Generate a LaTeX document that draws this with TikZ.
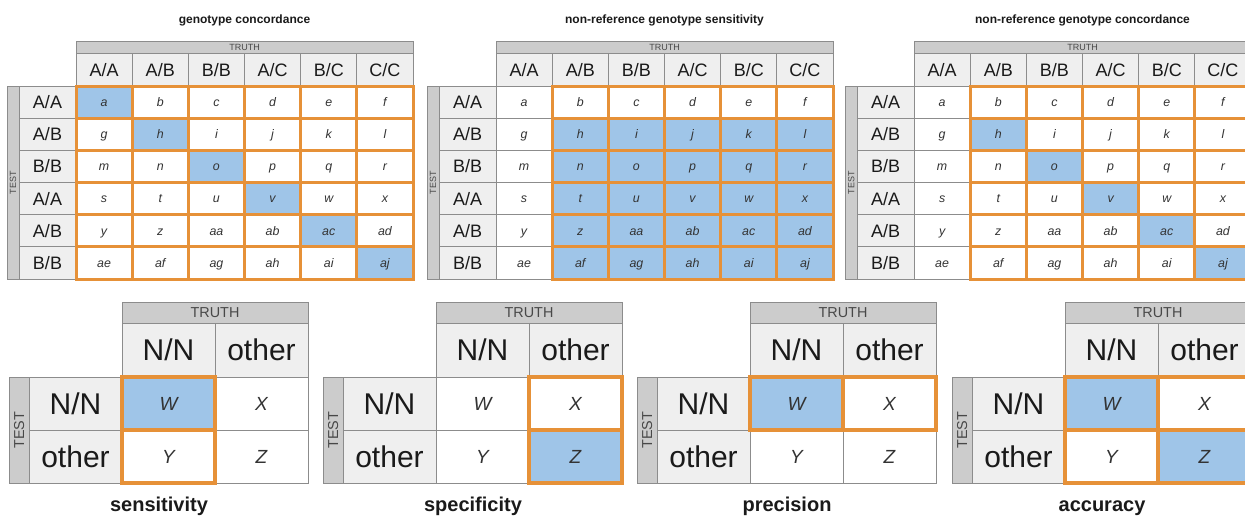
\documentclass[tikz,border=0pt]{standalone}
\usepackage{fontspec}
\setmainfont{Liberation Sans}
\definecolor{hdr}{HTML}{EFEFEF}
\definecolor{bar}{HTML}{CCCCCC}
\definecolor{gridc}{HTML}{8C8C8C}
\definecolor{hl}{HTML}{9FC5E8}
\definecolor{org}{HTML}{E69138}
\definecolor{txt}{HTML}{1A1A1A}
\definecolor{celltxt}{HTML}{333333}
\tikzset{
  cellbox/.style={draw=gridc, line width=0.5pt},
  hdrbox/.style={cellbox, fill=hdr},
  barbox/.style={draw=gridc, fill=bar, line width=0.5pt},
  orgthin/.style={draw=org, line width=1.5pt},
  orgthick/.style={draw=org, line width=2pt},
  toptitle/.style={inner sep=0pt, text height=4.3pt, text depth=1.2pt, text=txt, font=\fontsize{6}{7}\selectfont\bfseries},
  bottitle/.style={inner sep=0pt, text height=7.2pt, text depth=2pt, text=txt, font=\fontsize{10}{12}\selectfont\bfseries},
  smallcap/.style={inner sep=0pt, text height=3.24pt, text depth=0pt, text=txt!80, font=\fontsize{4.5}{5}\selectfont},
  midcap/.style={inner sep=0pt, text height=5.2pt, text depth=0pt, text=txt!80, font=\fontsize{7.2}{8}\selectfont},
  toplab/.style={inner sep=0pt, text height=6.5pt, text depth=0pt, text=txt, font=\fontsize{9}{10}\selectfont},
  biglab/.style={inner sep=0pt, text height=10.8pt, text depth=0pt, text=txt, font=\fontsize{15}{17}\selectfont},
  toplet/.style={inner sep=0pt, text height=4.4pt, text depth=0pt, text=celltxt, font=\fontsize{6.2}{7}\selectfont\itshape},
  botlet/.style={inner sep=0pt, text height=6.8pt, text depth=0pt, text=celltxt, font=\fontsize{9.5}{11}\selectfont\itshape},
}
% #1 name, #2 x origin, #3 title, #4 mode
\newcommand\TopTable[4]{%
\begin{scope}[shift={(#2,0)}]
  \node[toptitle] (#1-title) at (237.5,20) {#3};
  \draw[barbox] (69,41) rectangle (406,53);
  \node[smallcap] (#1-truth) at (237.5,47) {TRUTH};
  \draw[barbox] (0,86) rectangle (12,279);
  \node[smallcap, rotate=90] (#1-test) at (6,182.5) {TEST};
  \foreach \h [count=\i from 0] in {A/A,A/B,B/B,A/C,B/C,C/C}{
    \pgfmathsetmacro\xa{69+\i*56.1667}
    \pgfmathsetmacro\xb{\xa+56.1667}
    \draw[hdrbox] (\xa,53) rectangle (\xb,86);
    \node[toplab] (#1-h\i) at ({(\xa+\xb)/2},70) {\h};
  }
  \foreach \r [count=\j from 0] in {A/A,A/B,B/B,A/A,A/B,B/B}{
    \pgfmathsetmacro\ya{86+\j*32.1667}
    \pgfmathsetmacro\yb{\ya+32.1667}
    \draw[hdrbox] (12,\ya) rectangle (69,\yb);
    \node[toplab] (#1-r\j) at (40.5,{(\ya+\yb)/2}) {\r};
  }
  \foreach \t [count=\k from 0] in {a,b,c,d,e,f,g,h,i,j,k,l,m,n,o,p,q,r,s,t,u,v,w,x,y,z,aa,ab,ac,ad,ae,af,ag,ah,ai,aj}{
    \pgfmathtruncatemacro\col{mod(\k,6)}
    \pgfmathtruncatemacro\row{div(\k,6)}
    \pgfmathtruncatemacro\isblue{(#4==1)*(\col==\row)+(#4==2)*(\col>0)*(\row>0)+(#4==3)*(\col>0)*(\col==\row)}
    \pgfmathsetmacro\xa{69+\col*56.1667}
    \pgfmathsetmacro\xb{\xa+56.1667}
    \pgfmathsetmacro\ya{86+\row*32.1667}
    \pgfmathsetmacro\yb{\ya+32.1667}
    \ifnum\isblue>0 \def\fc{hl}\else\def\fc{white}\fi
    \draw[cellbox, fill=\fc] (\xa,\ya) rectangle (\xb,\yb);
    \node[toplet] (#1-c\k) at ({(\xa+\xb)/2},{(\ya+\yb)/2}) {\t};
  }
  \foreach \k in {0,...,35}{
    \pgfmathtruncatemacro\col{mod(\k,6)}
    \pgfmathtruncatemacro\row{div(\k,6)}
    \pgfmathtruncatemacro\isorg{(#4==1)+(#4>1)*(\col>0)}
    \pgfmathsetmacro\xa{69+\col*56.1667}
    \pgfmathsetmacro\xb{\xa+56.1667}
    \pgfmathsetmacro\ya{86+\row*32.1667}
    \pgfmathsetmacro\yb{\ya+32.1667}
    \ifnum\isorg>0 \draw[orgthin] (\xa,\ya) rectangle (\xb,\yb);\fi
  }
\end{scope}}
% #1 name, #2 x origin, #3 title, #4 blue list, #5 orange list
\newcommand\BotTable[5]{%
\begin{scope}[shift={(#2,0)}]
  \draw[barbox] (113,302) rectangle (299,323);
  \node[midcap] (#1-truth) at (206,312.5) {TRUTH};
  \draw[hdrbox] (113,323) rectangle (206,377);
  \draw[hdrbox] (206,323) rectangle (299,377);
  \node[biglab] (#1-h0) at (159.5,350) {N/N};
  \node[biglab] (#1-h1) at (252.5,350) {other};
  \draw[barbox] (0,377) rectangle (20,483);
  \node[midcap, rotate=90] (#1-test) at (10,430) {TEST};
  \draw[hdrbox] (20,377) rectangle (113,430);
  \draw[hdrbox] (20,430) rectangle (113,483);
  \node[biglab] (#1-r0) at (66.5,403.5) {N/N};
  \node[biglab] (#1-r1) at (66.5,456.5) {other};
  \foreach \i in {0,1,2,3}{
    \pgfmathsetmacro\xa{113+mod(\i,2)*93}
    \pgfmathsetmacro\ya{377+div(\i,2)*53}
    \draw[cellbox, fill=white] (\xa,\ya) rectangle ++(93,53);
  }
  \foreach \i in {#4}{
    \pgfmathsetmacro\xa{113+mod(\i,2)*93}
    \pgfmathsetmacro\ya{377+div(\i,2)*53}
    \draw[cellbox, fill=hl] (\xa,\ya) rectangle ++(93,53);
  }
  \foreach \t [count=\i from 0] in {W,X,Y,Z}{
    \pgfmathsetmacro\xa{113+mod(\i,2)*93}
    \pgfmathsetmacro\ya{377+div(\i,2)*53}
    \node[botlet] (#1-c\i) at ({\xa+46.5},{\ya+26.5}) {\t};
  }
  \foreach \i in {#5}{
    \pgfmathsetmacro\xa{113+mod(\i,2)*93}
    \pgfmathsetmacro\ya{377+div(\i,2)*53}
    \draw[orgthick] (\xa,\ya) rectangle ++(93,53);
  }
  \node[bottitle] (#1-title) at (150,506) {#3};
\end{scope}}
\begin{document}
\begin{tikzpicture}[x=0.5pt,y=-0.5pt]
\useasboundingbox (0,0) rectangle (1245,516);
\clip (0,0) rectangle (1245,516);
\fill[white] (0,0) rectangle (1245,516);
\TopTable{gc}{7}{genotype concordance}{1}
\TopTable{nrs}{427}{non-reference genotype sensitivity}{2}
\TopTable{nrc}{845}{non-reference genotype concordance}{3}
\BotTable{sen}{9}{sensitivity}{0}{0,2}
\BotTable{spe}{323}{specificity}{3}{1,3}
\BotTable{pre}{637}{precision}{0}{0,1}
\BotTable{acc}{952}{accuracy}{0,3}{0,1,2,3}
\end{tikzpicture}
\end{document}
